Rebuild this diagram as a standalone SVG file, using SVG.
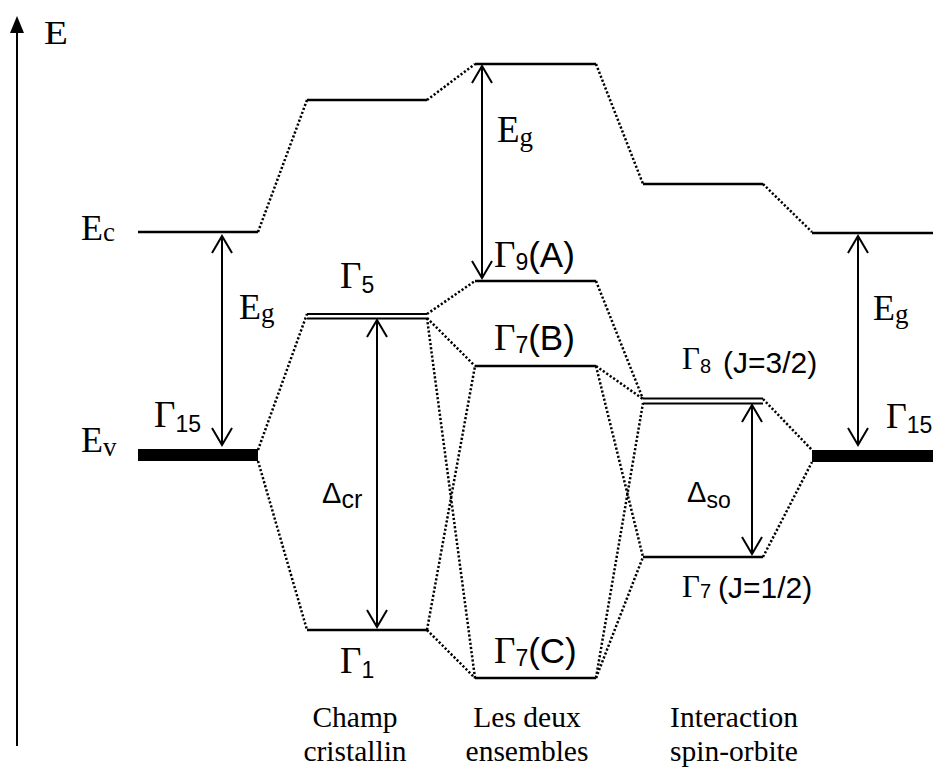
<svg xmlns="http://www.w3.org/2000/svg" width="936" height="767" viewBox="0 0 936 767">
<style>
.lvl{stroke:#000;stroke-width:2.5;fill:none}
.dbl{stroke:#000;stroke-width:2;fill:none}
.dot{stroke:#000;stroke-width:2.5;stroke-dasharray:2.2 2;fill:none}
.arr{stroke:#000;stroke-width:2;fill:none;marker-start:url(#v);marker-end:url(#v)}
.tm{font-family:"Liberation Serif","Times New Roman",serif;fill:#000}
.ar{font-family:"Liberation Sans",Arial,sans-serif;fill:#000}
.cap{font-family:"Liberation Serif","Times New Roman",serif;font-size:29.5px;text-anchor:middle;fill:#000}
</style>
<defs>
<marker id="v" viewBox="-19 -12 21 24" refX="0" refY="0" markerWidth="21" markerHeight="24" markerUnits="userSpaceOnUse" orient="auto-start-reverse">
<path d="M-17,-10 L0,0 L-17,10" fill="none" stroke="#000" stroke-width="2"/>
</marker>
</defs>
<rect width="936" height="767" fill="#fff"/>

<g id="axis">
<line x1="17" y1="30" x2="17" y2="746" stroke="#000" stroke-width="2"/>
<polygon points="17,16 10,33 24,33" fill="#000"/>
<text class="tm" x="44" y="44" font-size="34" transform="translate(44 44) scale(1.15 1) translate(-44 -44)">E</text>
</g>

<g id="connectors">
<path class="dot" d="M258,232 L307,100"/>
<path class="dot" d="M427,100 L475,64"/>
<path class="dot" d="M596,64 L643,184"/>
<path class="dot" d="M763,184 L812,232"/>
<path class="dot" d="M258,450 L307,314"/>
<path class="dot" d="M258,461 L307,630"/>
<path class="dot" d="M427,314 L475,281"/>
<path class="dot" d="M427,318 L475,366"/>
<path class="dot" d="M427,318 L475,678"/>
<path class="dot" d="M427,630 L475,366"/>
<path class="dot" d="M427,630 L475,678"/>
<path class="dot" d="M596,281 L643,399"/>
<path class="dot" d="M596,366 L643,399"/>
<path class="dot" d="M596,366 L643,557"/>
<path class="dot" d="M596,678 L643,403"/>
<path class="dot" d="M596,678 L643,557"/>
<path class="dot" d="M763,399 L812,450"/>
<path class="dot" d="M763,557 L812,462"/>
<line class="arr" x1="222" y1="236" x2="222" y2="445"/>
<line class="arr" x1="482" y1="66" x2="482" y2="278"/>
<line class="arr" x1="377" y1="320" x2="377" y2="627"/>
<line class="arr" x1="752" y1="405" x2="752" y2="554"/>
<line class="arr" x1="858" y1="236" x2="858" y2="445"/>
</g>

<g id="Ec-left">
<line class="lvl" x1="138" y1="232" x2="258" y2="232"/>
<text class="tm" x="81" y="240" font-size="36">E<tspan font-size="27" dy="1">c</tspan></text>
</g>
<g id="Ev-left">
<rect x="138" y="449" width="120" height="12" fill="#000"/>
<text class="tm" x="81" y="452" font-size="36">E<tspan font-size="27" dy="4">v</tspan></text>
<text x="154" y="427"><tspan class="tm" font-size="37">Γ</tspan><tspan class="ar" font-size="23" dy="5">15</tspan></text>
</g>
<g id="Eg-left-label">
<text class="tm" x="239" y="319" font-size="36">E<tspan font-size="27" dy="3">g</tspan></text>
</g>

<g id="cf-conduction">
<line class="lvl" x1="307" y1="100" x2="427" y2="100"/>
</g>
<g id="cf-gamma5">
<line class="dbl" x1="307" y1="314" x2="427" y2="314"/>
<line class="dbl" x1="307" y1="318.5" x2="427" y2="318.5"/>
<text x="340" y="288"><tspan class="tm" font-size="37">Γ</tspan><tspan class="ar" font-size="23" dy="5">5</tspan></text>
</g>
<g id="cf-delta">
<text x="322" y="503"><tspan class="ar" font-size="29">Δ</tspan><tspan class="ar" font-size="25" dy="5">cr</tspan></text>
</g>
<g id="cf-gamma1">
<line class="lvl" x1="307" y1="630" x2="427" y2="630"/>
<text x="340" y="673"><tspan class="tm" font-size="37">Γ</tspan><tspan class="ar" font-size="23" dy="5">1</tspan></text>
</g>

<g id="both-conduction">
<line class="lvl" x1="475" y1="64" x2="596" y2="64"/>
<text class="tm" x="497" y="142" font-size="37">E<tspan font-size="27" dy="4">g</tspan></text>
</g>
<g id="both-gamma9A">
<line class="lvl" x1="475" y1="281" x2="596" y2="281"/>
<text x="494" y="267"><tspan class="tm" font-size="37">Γ</tspan><tspan class="ar" font-size="23" dy="3">9</tspan><tspan class="ar" font-size="35" dy="-3">(A)</tspan></text>
</g>
<g id="both-gamma7B">
<line class="lvl" x1="475" y1="366" x2="596" y2="366"/>
<text x="494" y="350"><tspan class="tm" font-size="37">Γ</tspan><tspan class="ar" font-size="23" dy="3">7</tspan><tspan class="ar" font-size="35" dy="-3">(B)</tspan></text>
</g>
<g id="both-gamma7C">
<line class="lvl" x1="475" y1="678" x2="596" y2="678"/>
<text x="494" y="663"><tspan class="tm" font-size="37">Γ</tspan><tspan class="ar" font-size="23" dy="3">7</tspan><tspan class="ar" font-size="35" dy="-3">(C)</tspan></text>
</g>

<g id="so-conduction">
<line class="lvl" x1="643" y1="184" x2="763" y2="184"/>
</g>
<g id="so-gamma8">
<line class="dbl" x1="643" y1="398.5" x2="763" y2="398.5"/>
<line class="dbl" x1="643" y1="403.5" x2="763" y2="403.5"/>
<text x="682" y="369"><tspan class="tm" font-size="31">Γ</tspan><tspan class="ar" font-size="20" dy="4">8</tspan><tspan class="ar" font-size="30" x="723">(J=3/2)</tspan></text>
</g>
<g id="so-delta">
<text x="687" y="502"><tspan class="ar" font-size="29">Δ</tspan><tspan class="ar" font-size="23" dy="6">so</tspan></text>
</g>
<g id="so-gamma7">
<line class="lvl" x1="643" y1="557" x2="763" y2="557"/>
<text x="682" y="597"><tspan class="tm" font-size="31">Γ</tspan><tspan class="ar" font-size="20" dy="1">7</tspan><tspan class="ar" font-size="30" x="718">(J=1/2)</tspan></text>
</g>

<g id="Ec-right">
<line class="lvl" x1="812" y1="233" x2="933" y2="233"/>
<text class="tm" x="873" y="320" font-size="36">E<tspan font-size="27" dy="3">g</tspan></text>
</g>
<g id="Ev-right">
<rect x="812" y="450" width="121" height="12" fill="#000"/>
<text x="886" y="428"><tspan class="tm" font-size="36">Γ</tspan><tspan class="ar" font-size="23" dy="5">15</tspan></text>
</g>

<g id="captions">
<text class="cap" x="355" y="727">Champ</text>
<text class="cap" x="355" y="761">cristallin</text>
<text class="cap" x="527" y="727">Les deux</text>
<text class="cap" x="527" y="761">ensembles</text>
<text class="cap" x="734" y="727">Interaction</text>
<text class="cap" x="734" y="761">spin-orbite</text>
</g>
</svg>
